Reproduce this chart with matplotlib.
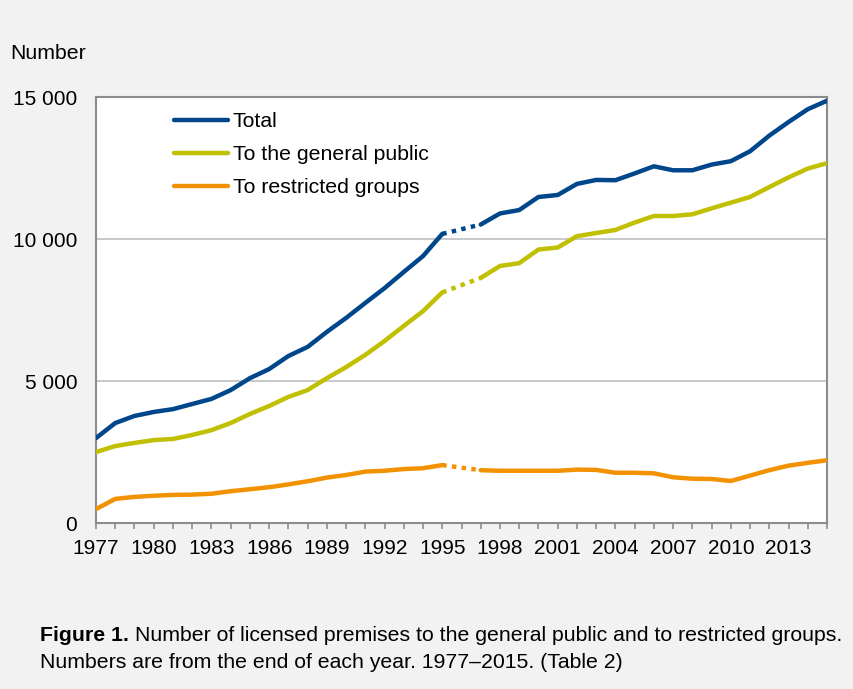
import numpy as np
import matplotlib.pyplot as plt
from matplotlib.ticker import FuncFormatter, MultipleLocator

plt.rcParams['font.family'] = ['Liberation Sans', 'DejaVu Sans']

# --- data (1996 missing -> None) ---
years = list(range(1977, 2016))
total = [2990, 3520, 3770, 3910, 4010, 4190, 4370, 4680, 5100, 5420,
         5880, 6200, 6730, 7220, 7750, 8270, 8840, 9400, 10180, None,
         10510, 10900, 11020, 11480, 11550, 11940, 12080, 12070, 12310, 12560,
         12420, 12420, 12620, 12740, 13090, 13640, 14120, 14570, 14870]
general = [2500, 2710, 2820, 2920, 2960, 3100, 3270, 3520, 3840, 4120,
           4440, 4680, 5100, 5490, 5920, 6410, 6940, 7460, 8120, None,
           8630, 9050, 9150, 9630, 9700, 10100, 10210, 10320, 10580, 10810,
           10810, 10870, 11080, 11280, 11480, 11830, 12170, 12480, 12670]
restricted = [490, 850, 920, 960, 990, 1000, 1030, 1120, 1190, 1260,
              1360, 1470, 1600, 1690, 1810, 1840, 1900, 1930, 2040, None,
              1860, 1840, 1840, 1840, 1840, 1880, 1870, 1770, 1770, 1750,
              1610, 1560, 1550, 1480, 1670, 1860, 2020, 2120, 2210]

labels = ["Total", "To the general public", "To restricted groups"]
colors = ["#00468b", "#c0bf00", "#f39200"]

FS = 15.3

fig = plt.figure(figsize=(8.54, 6.89), dpi=100, facecolor="#f2f2f2")
ax = fig.add_axes([0.1124, 0.2409, 0.8560, 0.6183])
ax.set_facecolor("white")

x = np.array(years, dtype=float)
for vals, lab, col in zip([total, general, restricted], labels, colors):
    y = np.array([np.nan if v is None else v for v in vals], dtype=float)
    ax.plot(x, y, color=col, lw=3.2, solid_capstyle="round",
            solid_joinstyle="round", label=lab, zorder=3)
    # dotted bridge over missing years
    miss = np.where(np.isnan(y))[0]
    for i in miss:
        ax.plot([x[i - 1], x[i + 1]], [y[i - 1], y[i + 1]], color=col,
                lw=3.2, linestyle=(0, (1, 1.2)), dash_capstyle="butt", zorder=3)

ax.set_xlim(1977, 2015)
ax.set_ylim(0, 15000)
ax.yaxis.set_major_locator(MultipleLocator(5000))
ax.yaxis.set_major_formatter(FuncFormatter(lambda v, p: f"{int(v):,}".replace(",", " ")))
ax.set_xticks(list(range(1977, 2015, 3)))
ax.xaxis.set_minor_locator(MultipleLocator(1))
ax.grid(axis="y", color="#bfbfbf", lw=1.2, zorder=1)

for s in ax.spines.values():
    s.set_color("#8c8c8c")
    s.set_linewidth(1.5)

ax.tick_params(axis="y", length=0, pad=13.5, labelsize=FS - 0.3, colors="black")
ax.tick_params(axis="x", which="both", length=4.3, width=1.2, color="#8c8c8c",
               pad=7.5, labelsize=FS - 0.3, labelcolor="black")

leg = ax.legend(loc="upper left", bbox_to_anchor=(0.088, 0.997), frameon=False,
                fontsize=FS, handlelength=2.55, handletextpad=0.22,
                labelspacing=0.66, borderaxespad=0.25)

fig.text(0.012, 0.923, "Number", fontsize=FS, va="center", ha="left")

# caption: bold lead-in followed by normal text on the same line
renderer = fig.canvas.get_renderer()
t1 = fig.text(0.047, 0.077, "Figure 1.", fontsize=FS, fontweight="bold",
              va="center", ha="left")
bb = t1.get_window_extent(renderer=renderer)
x_after = (bb.x1 + 0.28 * FS * 100 / 72) / fig.bbox.width
fig.text(x_after, 0.077,
         "Number of licensed premises to the general public and to restricted groups.",
         fontsize=FS, va="center", ha="left")
fig.text(0.047, 0.038, "Numbers are from the end of each year. 1977\u20132015. (Table 2)",
         fontsize=FS, va="center", ha="left")

plt.savefig("out.png", dpi=100, facecolor=fig.get_facecolor())
